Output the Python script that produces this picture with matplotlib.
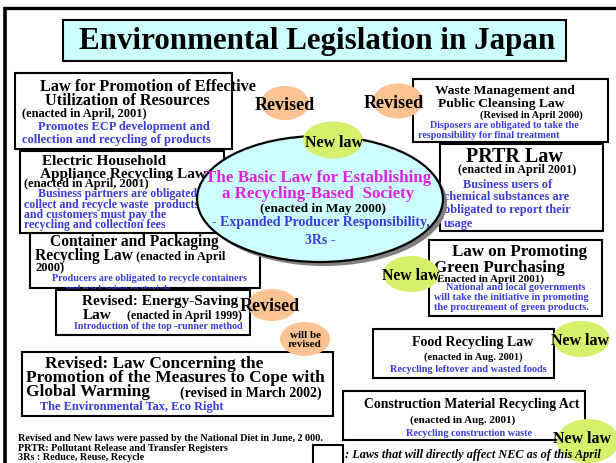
import matplotlib.pyplot as plt
from matplotlib.patches import Rectangle, Ellipse

# ---- texts -------------------------------------------------------------
title = "Environmental Legislation in Japan"

law_titles = [
    ["Law for Promotion of Effective", "Utilization of Resources"],
    ["Electric Household", "Appliance Recycling Law"],
    ["Container and Packaging", "Recycling Law"],
    ["Revised: Energy-Saving", "Law"],
    ["Revised: Law Concerning the", "Promotion of the Measures to Cope with", "Global Warming"],
    ["Waste Management and", "Public Cleansing Law"],
    ["PRTR Law"],
    ["Law on Promoting", "Green Purchasing"],
    ["Food Recycling Law"],
    ["Construction Material Recycling Act"],
]
law_dates = [
    ["(enacted in April, 2001)"],
    ["(enacted in April, 2001)"],
    [" (enacted in April", "2000)"],
    ["(enacted in April 1999)"],
    ["(revised in March 2002)"],
    ["(Revised in April 2000)"],
    ["(enacted in April 2001)"],
    ["Enacted in April 2001)"],
    ["(enacted in Aug. 2001)"],
    ["(enacted in Aug. 2001)"],
]
law_notes = [
    ["Promotes ECP development and", "collection and recycling of products"],
    ["Business partners are obligated to", "collect and recycle waste  products",
     "and customers must pay the", "recycling and collection fees"],
    ["Producers are obligated to recycle containers", "and packaging materials"],
    ["Introduction of the top -runner method"],
    ["The Environmental Tax, Eco Right"],
    ["Disposers are obligated to take the", "responsibility for final treatment"],
    ["Business users of", "chemical substances are", "obligated to report their", "usage"],
    ["National and local governments", "will take the initiative in promoting",
     "the procurement of green products."],
    ["Recycling leftover and wasted foods"],
    ["Recycling construction waste"],
]

basic_law = ["The Basic Law for Establishing", "a Recycling-Based  Society"]
basic_date = "(enacted in May 2000)"
basic_notes = ["- Expanded Producer Responsibility,", "3Rs -"]

badges = ["Revised", "Revised", "New law", "Revised", "will be\nrevised",
          "New law", "New law", "New law"]
badge_kind = ["rev", "rev", "new", "rev", "rev", "new", "new", "new"]

footnotes = ["Revised and New laws were passed by the National Diet in June, 2 000.",
             "PRTR: Pollutant Release and Transfer Registers",
             "3Rs : Reduce, Reuse, Recycle"]
legend_text = ": Laws that will directly affect NEC as of this April"

# ---- colours -----------------------------------------------------------
CYAN = "#ccffff"
BLUE = "#3b3bd8"
MAGENTA = "#e020e0"
ORANGE = "#fbc392"
GREEN = "#d6f06c"
FONT = "Liberation Serif"

fig = plt.figure(figsize=(6.16, 4.64), dpi=100)
ax = fig.add_axes([0, 0, 1, 1])
ax.set_xlim(0, 616)
ax.set_ylim(464, 0)
ax.axis("off")


def put(s, x, y, size, color="black", ha="left", z=2.1, style="normal"):
    ax.text(x, y, s, fontsize=size, color=color, ha=ha, va="center",
            fontweight="bold", fontstyle=style, family=FONT, zorder=z)


def box(x0, y0, x1, y1, z, fc="white"):
    ax.add_patch(Rectangle((x0, y0), x1 - x0, y1 - y0, fc=fc, ec="black",
                           lw=1.5, zorder=z))


# outer frame (only top and left edges visible)
ax.plot([3, 616], [9, 9], color="black", lw=2.4, zorder=1, solid_capstyle="butt")
ax.plot([5, 5], [8, 464], color="black", lw=2.6, zorder=1, solid_capstyle="butt")

# title
box(63, 21, 566, 62, 2, fc=CYAN)
put(title, 317, 42, 22.3, ha="center")

# ---- law boxes: rect, zorder, line positions, sizes ----------------------
rects = [(15, 74, 232, 150), (20, 152, 224, 234), (30, 230, 260, 289),
         (56, 291, 250, 336), (22, 353, 333, 417), (413, 80, 608, 143),
         (440, 145, 603, 232), (429, 241, 602, 317), (373, 330, 554, 379),
         (343, 392, 585, 441)]
zs = [2, 3, 2, 3, 2, 2, 2, 2, 2, 2]
title_pos = [[(40, 87), (45, 101)], [(42, 162), (40, 175)], [(50, 242), (35, 256)],
             [(82, 302), (83, 316)], [(45, 364), (26, 378), (26, 392)],
             [(435, 91), (438, 104)], [(466, 157)], [(452, 252), (434, 268)],
             [(412, 343)], [(364, 405)]]
title_size = [11.7, 11, 11.2, 11, 12.4, 9.7, 14.5, 12.2, 10, 9.9]
date_pos = [[(22, 114)], [(24, 184)], [(133, 257), (35, 268)], [(127, 316)],
            [(180, 393)], [(480, 115)], [(458, 170)], [(437, 279)], [(424, 357)],
            [(410, 420)]]
date_size = [9, 9, 9, 8.5, 10, 7.6, 8.7, 8, 7.5, 8]
note_pos = [[(38, 127), (22, 140)],
            [(38, 194), (24, 205), (24, 215), (24, 225)],
            [(52, 279), (64, 290)], [(74, 327)], [(40, 407)],
            [(430, 126), (418, 136)],
            [(463, 185), (444, 197), (444, 210), (444, 224)],
            [(446, 288), (434, 298), (434, 308)], [(390, 370)], [(406, 434)]]
note_size = [9, 8.6, 7.3, 7.2, 8.8, 7.3, 8.8, 7.4, 7.4, 7.3]

for i, r in enumerate(rects):
    z = zs[i]
    box(*r, z)
    for s, (x, y) in zip(law_titles[i], title_pos[i]):
        put(s, x, y, title_size[i], z=z + 0.1)
    for s, (x, y) in zip(law_dates[i], date_pos[i]):
        put(s, x, y, date_size[i], z=z + 0.1)
    for s, (x, y) in zip(law_notes[i], note_pos[i]):
        put(s, x, y, note_size[i], color=BLUE, z=z + 0.1)

# central ellipse with shadow
ax.add_patch(Ellipse((324, 204), 246, 126, fc="#808080", ec="none", zorder=4.9))
ax.add_patch(Ellipse((320, 200), 246, 126, fc=CYAN, ec="black", lw=1.6, zorder=5))
put(basic_law[0], 318, 178, 12.2, color=MAGENTA, ha="center", z=5.1)
put(basic_law[1], 318, 194, 12.2, color=MAGENTA, ha="center", z=5.1)
put(basic_date, 323, 209, 9.5, ha="center", z=5.1)
put(basic_notes[0], 321, 223, 10, color=BLUE, ha="center", z=5.1)
put(basic_notes[1], 320, 241, 10, color=BLUE, ha="center", z=5.1)

# badges
badge_ell = [(285, 104, 48, 34), (398, 102, 50, 35), (333, 141, 60, 37),
             (272, 306, 49, 32), (305, 340, 50, 34), (411, 275, 56, 36),
             (581, 340, 57, 36), (588, 442, 62, 44)]
badge_txt = [(285, 105), (394, 103), (334, 143), (270, 307), (305, 340),
             (411, 276), (580, 341), (582, 439)]
badge_size = [13, 13, 11.5, 13, 8, 11.3, 11.5, 11.5]
for i, s in enumerate(badges):
    cx, cy, w, h = badge_ell[i]
    fc = ORANGE if badge_kind[i] == "rev" else GREEN
    ax.add_patch(Ellipse((cx, cy), w, h, fc=fc, ec="none", zorder=6))
    tx, ty = badge_txt[i]
    ax.text(tx, ty, s, fontsize=badge_size[i], ha="center", va="center",
            fontweight="bold", family=FONT, zorder=6.1, linespacing=1.1)

# footnotes and legend
for k, s in enumerate(footnotes):
    put(s, 18, 439 + 9.5 * k, 7.3)
box(313, 446, 343, 470, 2)
put(legend_text, 345, 455, 8.8, style="italic", z=7)

fig.savefig("out.png", dpi=100)
